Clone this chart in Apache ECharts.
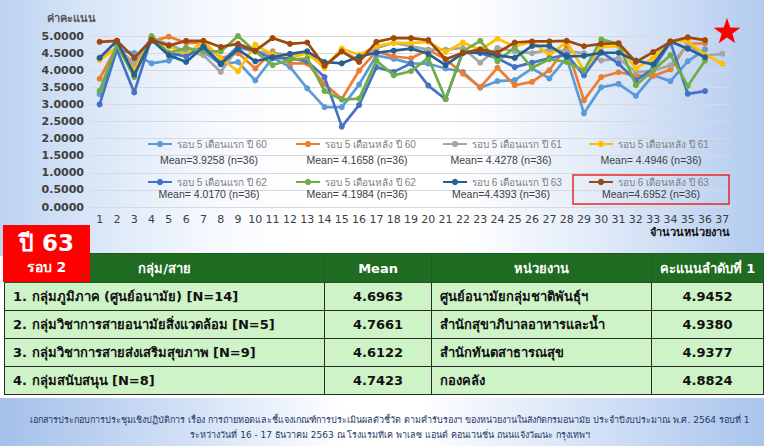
<!DOCTYPE html>
<html><head><meta charset="utf-8">
<script src="https://cdn.jsdelivr.net/npm/echarts@6/dist/echarts.min.js"></script>
<style>
html,body{margin:0;padding:0;width:764px;height:446px;overflow:hidden;}
body{position:relative;background:#fff;font-family:Tahoma,"DejaVu Sans",sans-serif;}
#bgTop{position:absolute;left:0;top:0;width:764px;height:256px;
 background:linear-gradient(90deg,#bcd3f1 0%,#d9e6f8 12%,#f6f9fe 28%,#ffffff 40%,#ffffff 60%,#e6eefa 76%,#b3cbef 100%);}
#bgBot{position:absolute;left:0;top:398px;width:764px;height:48px;
 background:linear-gradient(90deg,#a4c0ea 0%,#d3e1f6 25%,#ffffff 45%,#ffffff 55%,#d9e5f7 75%,#a9c4ed 100%);}
#chart{position:absolute;left:0;top:0;width:764px;height:250px;}
#tbl{position:absolute;left:4px;top:253px;border-collapse:collapse;table-layout:fixed;}
#tbl td{border:1.5px solid #2a2a2a;height:27px;padding:0;font-weight:bold;font-size:13px;color:#111;background:#cdf3c6;white-space:nowrap;overflow:visible;}
#tbl tr.h td{background:#1f6b22;color:#fff;text-align:center;height:28px;border-color:#1f5a1f;}
#tbl td.c{text-align:center;}
#tbl td.l{padding-left:8px;}
#badge{position:absolute;left:3px;top:225px;width:87px;height:57px;background:#ff0000;color:#fff;font-weight:bold;text-align:center;}
#badge .a{font-size:23px;line-height:28px;margin-top:4px;}
#badge .b{font-size:14px;line-height:20px;}
#foot{position:absolute;left:8px;top:413px;width:764px;font-size:9px;color:#1f3864;text-align:center;line-height:15px;}
</style></head>
<body>
<div id="bgTop"></div><div id="bgBot"></div>
<div id="chart"></div>
<table id="tbl"></table>
<div id="badge"><div class="a">ปี 63</div><div class="b">รอบ 2</div></div>
<div id="foot"></div>
<script>
const categories = ['1','2','3','4','5','6','7','8','9','10','11','12','13','14','15','16','17','18','19','20','21','22','23','24','25','26','27','28','29','30','31','32','33','34','35','36','37'];
const seriesNames = ['รอบ 5 เดือนแรก ปี 60','รอบ 5 เดือนหลัง ปี 60','รอบ 5 เดือนแรก ปี 61','รอบ 5 เดือนหลัง ปี 61','รอบ 5 เดือนแรก ปี 62','รอบ 5 เดือนหลัง ปี 62','รอบ 6 เดือนแรก ปี 63','รอบ 6 เดือนหลัง ปี 63'];
const meanLabels = ['Mean=3.9258 (n=36)','Mean= 4.1658 (n=36)','Mean= 4.4278 (n=36)','Mean= 4.4946 (n=36)','Mean= 4.0170 (n=36)','Mean= 4.1984 (n=36)','Mean=4.4393 (n=36)','Mean=4.6952 (n=36)'];
const colors = ['#5b9bd5','#ed7d31','#a5a5a5','#ffc000','#4472c4','#70ad47','#255e91','#9e480e'];

const s60a = [3.30,4.60,4.50,4.20,4.28,4.65,4.55,4.17,4.24,3.70,4.36,4.10,3.47,2.92,2.92,3.58,4.43,4.33,4.20,4.19,4.05,3.95,3.49,3.68,3.71,4.05,3.76,4.36,2.74,3.50,3.60,3.25,3.85,3.68,4.26,4.61];
const s60b = [3.75,4.70,4.15,4.85,4.98,4.80,4.80,4.35,4.50,4.05,4.55,4.20,4.20,3.60,3.16,3.99,4.55,4.40,4.35,4.60,4.32,3.90,3.50,4.07,3.56,3.66,4.00,4.70,3.12,3.80,3.94,3.85,3.83,4.02,4.78,4.78];
const s61a = [4.35,4.65,4.20,4.95,4.75,4.55,4.44,3.95,4.65,4.55,4.50,4.45,4.50,4.10,4.55,4.30,4.65,4.80,4.70,4.60,4.60,4.65,4.22,4.65,4.55,4.50,4.60,4.55,4.50,4.28,4.35,3.94,3.99,4.14,4.75,4.43,4.48];
const s61b = [4.30,4.65,4.00,4.90,4.70,4.44,4.85,4.35,3.97,4.75,4.45,4.35,4.50,4.07,4.63,4.45,4.71,4.80,4.79,4.83,4.53,4.81,4.60,4.92,4.70,4.83,4.44,4.83,4.00,4.68,4.70,4.05,4.35,4.85,4.85,4.45,4.19];
const s62a = [3.00,4.60,3.35,4.95,4.50,4.40,4.70,4.20,4.70,4.55,4.35,4.35,4.26,3.80,2.35,2.98,4.09,3.95,4.20,3.55,3.15,4.53,4.50,4.35,4.09,4.22,4.35,4.45,3.85,4.53,4.19,3.70,4.04,4.82,3.31,3.39];
const s62b = [3.40,4.75,3.80,5.00,4.50,4.65,4.55,4.55,5.00,4.55,4.15,4.30,4.35,3.39,3.14,3.17,4.28,3.85,3.97,4.36,3.16,4.55,4.86,4.26,4.67,4.07,4.32,4.24,3.99,4.90,4.77,3.56,4.00,4.44,3.54,4.28];
const s63a = [4.36,4.86,3.87,4.88,4.44,4.24,4.68,4.18,4.61,4.26,4.38,4.48,4.55,4.24,4.20,4.40,4.51,4.57,4.63,4.48,4.15,4.50,4.53,4.44,4.36,4.71,4.71,4.40,4.42,4.51,4.51,4.28,4.17,4.84,4.63,4.38];
const s63b = [4.83,4.86,4.36,4.89,4.72,4.86,4.86,4.68,4.77,4.57,4.94,4.77,4.81,4.13,4.55,4.24,4.83,4.94,4.94,4.88,4.32,4.51,4.61,4.51,4.81,4.84,4.84,4.86,4.70,4.77,4.79,4.24,4.53,4.83,4.96,4.88];
const seriesData = [s60a,s60b,s61a,s61b,s62a,s62b,s63a,s63b];
const yTicks = ['0.0000','0.5000','1.0000','1.5000','2.0000','2.5000','3.0000','3.5000','4.0000','4.5000','5.0000'];

const tableHeader = ['กลุ่ม/สาย','Mean','หน่วยงาน','คะแนนลำดับที่ 1'];
const groupNames = ['1. กลุ่มภูมิภาค (ศูนย์อนามัย) [N=14]','2. กลุ่มวิชาการสายอนามัยสิ่งแวดล้อม [N=5]','3. กลุ่มวิชาการสายส่งเสริมสุขภาพ [N=9]','4. กลุ่มสนับสนุน [N=8]'];
const groupMeans = ['4.6963','4.7661','4.6122','4.7423'];
const topUnits = ['ศูนย์อนามัยกลุ่มชาติพันธุ์ฯ','สำนักสุขาภิบาลอาหารและน้ำ','สำนักทันตสาธารณสุข','กองคลัง'];
const topScores = ['4.9452','4.9380','4.9377','4.8824'];
const footLines = ['เอกสารประกอบการประชุมเชิงปฏิบัติการ เรื่อง การถ่ายทอดและชี้แจงเกณฑ์การประเมินผลตัวชี้วัด ตามคำรับรองฯ ของหน่วยงานในสังกัดกรมอนามัย ประจำปีงบประมาณ พ.ศ. 2564 รอบที่ 1','ระหว่างวันที่ 16 - 17 ธันวาคม 2563 ณ โรงแรมทีเค พาเลซ แอนด์ คอนเวนชั่น ถนนแจ้งวัฒนะ กรุงเทพฯ'];

// table
const colW = [321,107,221,112];
const tbl = document.getElementById('tbl');
let html = '<colgroup>' + colW.map(w=>'<col style="width:'+w+'px">').join('') + '</colgroup>';
html += '<tr class="h">' + tableHeader.map(t=>'<td>'+t+'</td>').join('') + '</tr>';
for (let i=0;i<groupNames.length;i++){
  html += '<tr><td class="l">'+groupNames[i]+'</td><td class="c">'+groupMeans[i]+'</td><td class="l">'+topUnits[i]+'</td><td class="c">'+topScores[i]+'</td></tr>';
}
tbl.innerHTML = html;
document.getElementById('foot').innerHTML = footLines.map(s=>'<div>'+s+'</div>').join('');

const FONT = 'Tahoma, "DejaVu Sans", sans-serif';
const LFONT = '"Liberation Sans", Arial, sans-serif';
const legendX = [147,295,442,588];
const legendY = [139,177];
const meanX = [209,357,501,651];
const meanY = [160,194];

function starPoints(cx,cy,R,r){
  const p=[];
  for(let k=0;k<10;k++){
    const a = -Math.PI/2 + k*Math.PI/5;
    const rr = k%2===0?R:r;
    p.push([cx+rr*Math.cos(a), cy+rr*Math.sin(a)]);
  }
  return p;
}

const chart = echarts.init(document.getElementById('chart'), null, {renderer:'svg'});
const graphics = [
  {type:'text', left:47, top:13, style:{text:'ค่าคะแนน', fill:'#595959', font:'bold 11px '+FONT}},
  {type:'text', left:650, top:227, style:{text:'จำนวนหน่วยงาน', fill:'#111', font:'bold 11px '+FONT}},
  {type:'rect', shape:{x:573,y:175,width:156,height:29}, style:{fill:'none', stroke:'#e32a2a', lineWidth:1.5}, z:10},
  {type:'polygon', shape:{points:starPoints(727,32,14,5.6)}, style:{fill:'#ff0000'}, z:10}
];
meanLabels.forEach((t,i)=>{
  graphics.push({type:'text', x:meanX[i%4], y:meanY[Math.floor(i/4)], style:{text:t, fill:'#404040', font:'10.5px '+LFONT, textAlign:'center', textVerticalAlign:'middle'}, z:10});
});

chart.setOption({
  animation:false,
  color: colors,
  grid:{left:91, right:33, top:36, bottom:43},
  legend: seriesNames.map((n,i)=>({
    data:[n], left:legendX[i%4], top:legendY[Math.floor(i/4)], padding:0,
    itemWidth:24, itemHeight:8, itemGap:0, selectedMode:false,
    textStyle:{color:'#7f7f7f', fontSize:10, fontFamily:LFONT}
  })),
  xAxis:{type:'category', data:categories, boundaryGap:true,
    axisTick:{show:false}, axisLine:{lineStyle:{color:'#d9d9d9'}},
    axisLabel:{color:'#404040', fontSize:11, fontFamily:FONT, margin:7, interval:0}},
  yAxis:{type:'value', min:0, max:5, interval:0.5,
    axisLabel:{color:'#404040', fontSize:11, fontWeight:'bold', fontFamily:FONT, margin:7,
      formatter:(v,idx)=>yTicks[idx]},
    splitLine:{lineStyle:{color:'#d9d9d9'}}, axisLine:{show:false}, axisTick:{show:false}},
  graphic: graphics,
  series: seriesData.map((d,i)=>({
    name:seriesNames[i], type:'line', data:d, symbol:'circle', symbolSize:6,
    lineStyle:{width:2.7, color:colors[i]}, itemStyle:{color:colors[i]}, z:2+i
  }))
});
</script>
</body></html>
